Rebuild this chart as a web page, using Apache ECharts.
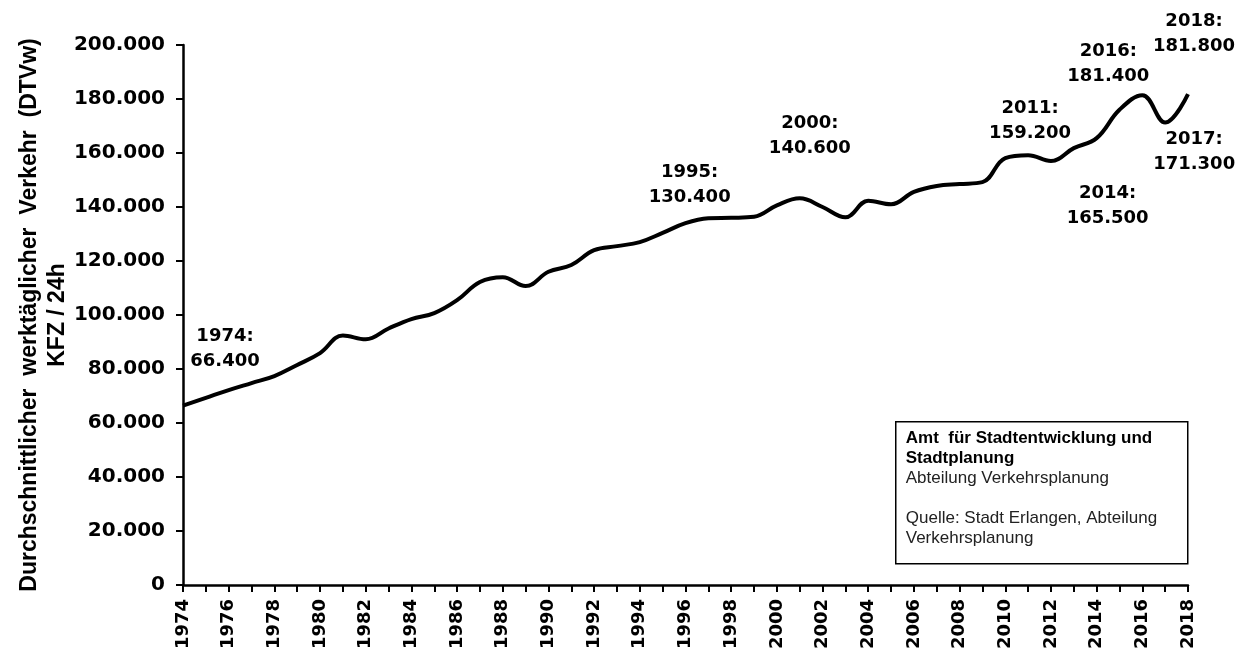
<!DOCTYPE html>
<html>
<head>
<meta charset="utf-8">
<title>DTVw Erlangen</title>
<script src="https://cdn.jsdelivr.net/npm/echarts@6/dist/echarts.min.js"></script>
<style>
  html, body { margin: 0; padding: 0; background: #fff; }
  #chart { width: 1236px; height: 655px; }
</style>
</head>
<body>
<div id="chart"></div>
<script>
// Jahre und DTVw-Werte
var years = [1974, 1975, 1976, 1977, 1978, 1979, 1980, 1981, 1982, 1983,
  1984, 1985, 1986, 1987, 1988, 1989, 1990, 1991, 1992, 1993,
  1994, 1995, 1996, 1997, 1998, 1999, 2000, 2001, 2002, 2003,
  2004, 2005, 2006, 2007, 2008, 2009, 2010, 2011, 2012, 2013,
  2014, 2015, 2016, 2017, 2018];
var traffic = [66400, 69300, 72200, 74800, 77400, 81500, 85900, 92400, 91000, 95000,
  98500, 100700, 105500, 112200, 114000, 110700, 116000, 118500, 124000, 125500,
  127000, 130400, 134000, 135800, 136000, 136400, 140600, 143200, 140000, 136200,
  142300, 141000, 145600, 147800, 148500, 149200, 158100, 159200, 157000, 161800,
  165500, 176000, 181400, 171300, 181800];
// beschriftete Jahre
var labelYears = [1974, 1995, 2000, 2011, 2014, 2016, 2017, 2018];
var labelOffsets = [[42, -57], [27, -48], [33, -70], [2, -34], [11, 68], [-34, -31], [29, 29], [6, -60]];

function fmt(v) {
  return String(v).replace(/\B(?=(\d{3})+(?!\d))/g, '.');
}

var seriesData = years.map(function (y, i) { return [y, traffic[i]]; });
var marks = labelYears.map(function (y, i) {
  var v = traffic[years.indexOf(y)];
  return {
    coord: [y, v],
    value: v,
    label: { offset: labelOffsets[i], formatter: y + ':\n' + fmt(v) }
  };
});

var font = 'DejaVu Sans';
var chart = echarts.init(document.getElementById('chart'));
chart.setOption({
  animation: false,
  backgroundColor: '#fff',
  grid: { left: 183, right: 48, top: 45, bottom: 70, outerBoundsMode: 'none', containLabel: false },
  xAxis: {
    type: 'value',
    min: 1974,
    max: 2018,
    interval: 1,
    axisLine: { lineStyle: { color: '#000', width: 2.5 } },
    axisTick: { show: true, length: 7, lineStyle: { color: '#000', width: 2 } },
    splitLine: { show: false },
    axisLabel: {
      rotate: 90,
      margin: 14,
      color: '#000',
      fontFamily: font,
      fontWeight: 'bold',
      fontSize: 18,
      formatter: function (v) { return v % 2 === 0 ? String(v) : ''; }
    }
  },
  yAxis: {
    type: 'value',
    min: 0,
    max: 200000,
    interval: 20000,
    name: 'Durchschnittlicher  werktäglicher  Verkehr  (DTVw)\nKFZ / 24h',
    nameLocation: 'middle',
    nameGap: 111,
    nameMoveOverlap: false,
    nameRotate: 90,
    nameTextStyle: {
      color: '#000',
      fontFamily: 'Liberation Sans',
      fontWeight: 'bold',
      fontSize: 23,
      lineHeight: 28
    },
    axisLine: { show: true, lineStyle: { color: '#000', width: 2.5 } },
    axisTick: { show: true, length: 7, lineStyle: { color: '#000', width: 2 } },
    splitLine: { show: false },
    axisLabel: {
      margin: 18,
      color: '#000',
      fontFamily: font,
      fontWeight: 'bold',
      fontSize: 20,
      formatter: function (v) { return fmt(v); }
    }
  },
  series: [{
    type: 'line',
    data: seriesData,
    smooth: 0.4,
    showSymbol: false,
    lineStyle: { color: '#000', width: 4 },
    itemStyle: { color: '#000' },
    markPoint: {
      symbol: 'circle',
      symbolSize: 0,
      label: {
        show: true,
        position: 'inside',
        color: '#000',
        fontFamily: font,
        fontWeight: 'bold',
        fontSize: 18,
        lineHeight: 25,
        align: 'center'
      },
      data: marks
    }
  }],
  graphic: [{
    type: 'group',
    left: 895,
    top: 421,
    children: [{
      type: 'rect',
      shape: { x: 0, y: 0, width: 292, height: 142 },
      style: { fill: '#fff', stroke: '#000', lineWidth: 1.5 }
    }, {
      type: 'text',
      x: 10,
      y: 7,
      style: {
        text: '{b|Amt  für Stadtentwicklung und}\n{b|Stadtplanung}\n{n|Abteilung Verkehrsplanung}\n{n| }\n{n|Quelle: Stadt Erlangen, Abteilung}\n{n|Verkehrsplanung}',
        rich: {
          b: { fontFamily: 'Liberation Sans', fontWeight: 'bold', fontSize: 17, lineHeight: 20, fill: '#000' },
          n: { fontFamily: 'Liberation Sans', fontSize: 17, lineHeight: 20, fill: '#222' }
        }
      }
    }]
  }]
});
</script>
</body>
</html>
